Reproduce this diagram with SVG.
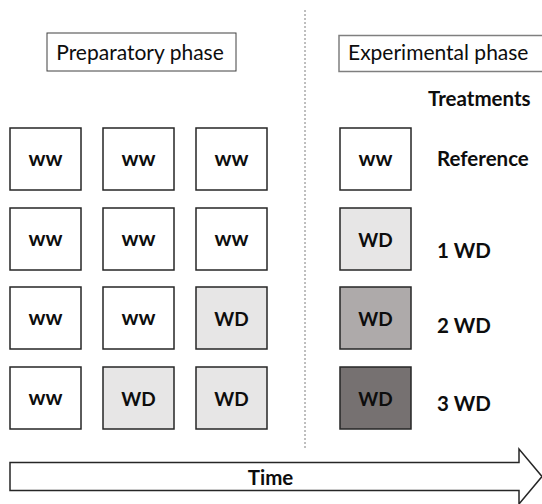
<svg xmlns="http://www.w3.org/2000/svg" width="542" height="504" viewBox="0 0 542 504">
<style>
.box{stroke:#262626;stroke-width:1.5}
.ww{fill:#ffffff}
.wd1{fill:#e7e6e6}
.wd2{fill:#aeaaaa}
.wd3{fill:#767171}
.lbl{font-family:Lato,"Liberation Sans",sans-serif;font-weight:bold;font-size:19px;fill:#0d0d0d;text-anchor:middle}
.w2{font-size:20px}
.trt{font-family:Lato,"Liberation Sans",sans-serif;font-weight:bold;font-size:20.5px;fill:#0d0d0d}
.phase{font-family:Lato,"Liberation Sans",sans-serif;font-size:21px;fill:#0d0d0d}
</style>
<rect width="542" height="504" fill="#ffffff"/>
<g id="connectors">
<line x1="305" y1="10" x2="305" y2="448" stroke="#7f7f7f" stroke-width="1" stroke-dasharray="2,2"/>
</g>
<g id="prep-phase">
<rect x="47" y="33" width="189" height="38" fill="#ffffff" stroke="#404040" stroke-width="1"/>
<text class="phase" x="140" y="60" text-anchor="middle">Preparatory phase</text>
</g>
<g id="exp-phase">
<rect x="339" y="35.5" width="210" height="36" fill="#ffffff" stroke="#7f7f7f" stroke-width="1.5"/>
<text class="phase" x="348" y="60">Experimental phase</text>
</g>
<g id="treatments"><text class="trt" x="428" y="106">Treatments</text></g>

<g id="r1c1"><rect class="box ww" x="10" y="128" width="71" height="62"/><text class="lbl w2" x="45.5" y="166" textLength="34" lengthAdjust="spacingAndGlyphs">ww</text></g>
<g id="r1c2"><rect class="box ww" x="103" y="128" width="71" height="62"/><text class="lbl w2" x="138.5" y="166" textLength="34" lengthAdjust="spacingAndGlyphs">ww</text></g>
<g id="r1c3"><rect class="box ww" x="196" y="128" width="71" height="62"/><text class="lbl w2" x="231.5" y="166" textLength="34" lengthAdjust="spacingAndGlyphs">ww</text></g>
<g id="r1e"><rect class="box ww" x="340" y="128" width="71" height="62"/><text class="lbl w2" x="375.5" y="166" textLength="34" lengthAdjust="spacingAndGlyphs">ww</text></g>
<g id="t1"><text class="trt" x="437" y="166">Reference</text></g>

<g id="r2c1"><rect class="box ww" x="10" y="208" width="71" height="62"/><text class="lbl w2" x="45.5" y="246" textLength="34" lengthAdjust="spacingAndGlyphs">ww</text></g>
<g id="r2c2"><rect class="box ww" x="103" y="208" width="71" height="62"/><text class="lbl w2" x="138.5" y="246" textLength="34" lengthAdjust="spacingAndGlyphs">ww</text></g>
<g id="r2c3"><rect class="box ww" x="196" y="208" width="71" height="62"/><text class="lbl w2" x="231.5" y="246" textLength="34" lengthAdjust="spacingAndGlyphs">ww</text></g>
<g id="r2e"><rect class="box wd1" x="340" y="208" width="71" height="62"/><text class="lbl" x="375.5" y="246.5">WD</text></g>
<g id="t2"><text class="trt" x="437" y="258">1 WD</text></g>

<g id="r3c1"><rect class="box ww" x="10" y="287" width="71" height="62"/><text class="lbl w2" x="45.5" y="325" textLength="34" lengthAdjust="spacingAndGlyphs">ww</text></g>
<g id="r3c2"><rect class="box ww" x="103" y="287" width="71" height="62"/><text class="lbl w2" x="138.5" y="325" textLength="34" lengthAdjust="spacingAndGlyphs">ww</text></g>
<g id="r3c3"><rect class="box wd1" x="196" y="287" width="71" height="62"/><text class="lbl" x="231.5" y="325.5">WD</text></g>
<g id="r3e"><rect class="box wd2" x="340" y="287" width="71" height="62"/><text class="lbl" x="375.5" y="325.5">WD</text></g>
<g id="t3"><text class="trt" x="437" y="333">2 WD</text></g>

<g id="r4c1"><rect class="box ww" x="10" y="367" width="71" height="62"/><text class="lbl w2" x="45.5" y="405" textLength="34" lengthAdjust="spacingAndGlyphs">ww</text></g>
<g id="r4c2"><rect class="box wd1" x="103" y="367" width="71" height="62"/><text class="lbl" x="138.5" y="405.5">WD</text></g>
<g id="r4c3"><rect class="box wd1" x="196" y="367" width="71" height="62"/><text class="lbl" x="231.5" y="405.5">WD</text></g>
<g id="r4e"><rect class="box wd3" x="340" y="367" width="71" height="62"/><text class="lbl" x="375.5" y="405.5">WD</text></g>
<g id="t4"><text class="trt" x="437" y="411">3 WD</text></g>

<g id="time-arrow">
<polygon points="10,462.5 519,462.5 519,449 542,476.5 519,504 519,490.5 10,490.5" fill="#ffffff" stroke="#262626" stroke-width="1.5"/>
<text class="lbl" x="270.5" y="484.5" style="font-size:20.5px">Time</text>
</g>
</svg>
